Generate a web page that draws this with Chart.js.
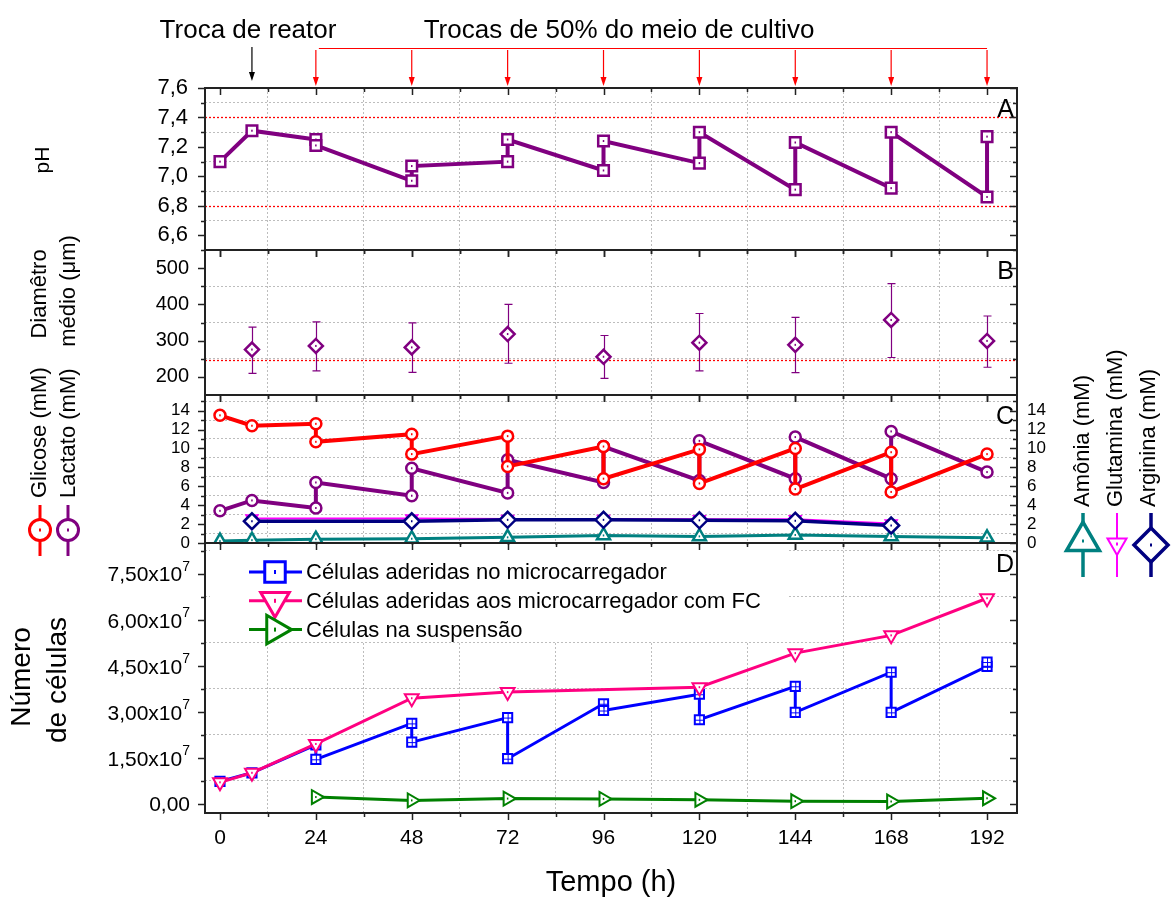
<!DOCTYPE html>
<html>
<head>
<meta charset="utf-8">
<script src="https://cdn.jsdelivr.net/npm/chart.js@4.4.0/dist/chart.umd.min.js"></script>
<style>
  html, body { margin: 0; padding: 0; background: #fff; }
  #wrap { position: relative; width: 1171px; height: 897px; }
  #wrap canvas { position: absolute; left: 0; top: 0; }
</style>
</head>
<body>
<div id="wrap">
  <canvas id="cA" width="1171" height="897"></canvas>
  <canvas id="cB" width="1171" height="897"></canvas>
  <canvas id="cC" width="1171" height="897"></canvas>
  <canvas id="cD" width="1171" height="897"></canvas>
</div>
<script>
// ─────────────────────────────────────────
//  Data
// ─────────────────────────────────────────

// ── Time axis ──────────────────────────────
const timeTicks     = [0, 24, 48, 72, 96, 120, 144, 168, 192];
const timeGrid      = [12, 36, 60, 84, 108, 132, 156, 180];
const reactorChange = [8];
const mediumChanges = [24, 48, 72, 96, 120, 144, 168, 192];

// ── A: pH ──────────────────────────────────
const phTicks  = [6.6, 6.8, 7.0, 7.2, 7.4, 7.6];
const phGrid   = [6.7, 6.9, 7.1, 7.3, 7.5];
const phLimits = [7.4, 6.8];
const phTime   = [0, 8, 24, 24, 48, 48, 72, 72, 96, 96, 120, 120, 144, 144, 168, 168, 192, 192];
const phValue  = [7.10, 7.31, 7.25, 7.21, 6.97, 7.07, 7.10, 7.25, 7.04, 7.24, 7.09, 7.30, 6.91, 7.23, 6.92, 7.30, 6.86, 7.27];

// ── B: mean diameter (µm) ─────────────────
const diamTicks = [200, 300, 400, 500];
const diamGrid  = [250, 350, 450, 550];
const diamLimit = [245];
const diamTime  = [8, 24, 48, 72, 96, 120, 144, 168, 192];
const diamMean  = [275, 285, 281, 318, 255, 294, 288, 357, 299];
const diamLow   = [209, 216, 212, 237, 195, 216, 211, 253, 226];
const diamHigh  = [337, 352, 349, 400, 314, 375, 364, 458, 368];

// ── C: metabolites (mM) ───────────────────
const concTicks = [0, 2, 4, 6, 8, 10, 12, 14];
const concGrid  = [1, 3, 5, 7, 9, 11, 13, 15];
const gluTime   = [0, 8, 24, 24, 48, 48, 72, 72, 96, 96, 120, 120, 144, 144, 168, 168, 192];
const gluValue  = [13.5, 12.4, 12.6, 10.7, 11.5, 9.4, 11.3, 8.1, 10.2, 6.8, 9.9, 6.3, 10.0, 5.7, 9.6, 5.4, 9.4];
const lacTime   = [0, 8, 24, 24, 48, 48, 72, 72, 96, 96, 120, 120, 144, 144, 168, 168, 192];
const lacValue  = [3.4, 4.5, 3.7, 6.4, 5.0, 7.9, 5.3, 8.8, 6.4, 10.2, 6.6, 10.8, 6.8, 11.2, 6.8, 11.8, 7.5];
const ammTime   = [0, 8, 24, 48, 72, 96, 120, 144, 168, 192];
const ammValue  = [0.2, 0.3, 0.4, 0.45, 0.6, 0.8, 0.7, 0.85, 0.7, 0.55];
const glnTime   = [8, 48, 72, 96, 120, 144, 168];
const glnValue  = [2.6, 2.6, 2.55, 2.55, 2.5, 2.5, 2.05];
const argTime   = [8, 48, 72, 96, 120, 144, 168];
const argValue  = [2.3, 2.3, 2.45, 2.45, 2.4, 2.35, 1.85];

// ── D: cell number ────────────────────────
const cellTicks  = [0, 1.5e7, 3.0e7, 4.5e7, 6.0e7, 7.5e7];
const cellGrid   = [0.75e7, 2.25e7, 3.75e7, 5.25e7, 6.75e7, 8.25e7];
const adhTime    = [0, 8, 24, 24, 48, 48, 72, 72, 96, 96, 120, 120, 144, 144, 168, 168, 192, 192];
const adhValue   = [0.73e7, 1.01e7, 1.92e7, 1.45e7, 2.62e7, 2.01e7, 2.81e7, 1.47e7, 3.26e7, 3.04e7, 3.57e7, 2.74e7, 3.83e7, 2.98e7, 4.29e7, 2.98e7, 4.48e7, 4.62e7];
const fcTime     = [0, 8, 24, 48, 72, 120, 144, 168, 192];
const fcValue    = [0.70e7, 1.01e7, 1.95e7, 3.44e7, 3.64e7, 3.80e7, 4.91e7, 5.49e7, 6.70e7];
const suspTime   = [24, 48, 72, 96, 120, 144, 168, 192];
const suspValue  = [0.22e7, 0.11e7, 0.17e7, 0.16e7, 0.13e7, 0.085e7, 0.075e7, 0.18e7];

// ─────────────────────────────────────────
//  Look
// ─────────────────────────────────────────
const FONT   = "'Liberation Sans', Arial, sans-serif";
const GRID   = '#bdbdbd';
const PURPLE = '#800080';
const RED    = '#ff0000';
const NAVY   = '#000080';
const MAGENTA= '#ff00ff';
const TEAL   = '#008080';
const BLUE   = '#0000ff';
const PINK   = '#ff0080';
const GREEN  = '#008000';

const PLOT_RIGHT_GAP = 154;   // 1171 - 1017
const AXIS_W = 205;

// ── Helpers ────────────────────────────────
const comma = (d) => (v) => v.toFixed(d).replace('.', ',');

function series(label, xs, ys, color, style, extra) {
  return Object.assign({
    label,
    data: xs.map((x, i) => ({ x, y: ys[i] })),
    borderColor: color,
    backgroundColor: '#fff',
    pointBorderColor: color,
    pointBackgroundColor: '#fff',
    pointStyle: style,
    pointRadius: 6,
    pointHoverRadius: 6,
    pointBorderWidth: 2.5,
    borderWidth: 3,
    tension: 0
  }, extra || {});
}

function xScale(showLabels) {
  return {
    type: 'linear',
    min: -3.75,
    max: 199.5,
    afterBuildTicks: (s) => {
      s.ticks = timeTicks.concat(timeGrid).sort((a, b) => a - b).map(v => ({ value: v }));
    },
    ticks: {
      display: showLabels,
      autoSkip: false,
      maxRotation: 0,
      padding: 13,
      color: '#000',
      font: { size: 21, family: FONT },
      callback: (v) => timeTicks.includes(v) ? String(v) : ''
    },
    grid: {
      drawTicks: false,
      lineWidth: 1,
      color: (c) => c.tick && timeGrid.includes(c.tick.value) ? GRID : 'rgba(0,0,0,0)'
    },
    border: { display: false, dash: [2, 2] },
    title: {
      display: showLabels,
      text: 'Tempo (h)',
      color: '#000',
      font: { size: 29, family: FONT, lineHeight: 1 },
      padding: { top: 0, bottom: 0 }
    },
    afterFit: (s) => { s.height = showLabels ? 84 : 0; }
  };
}

function yScale(min, max, major, minor, fmt, size, pad) {
  return {
    type: 'linear',
    position: 'left',
    min, max,
    afterBuildTicks: (s) => {
      s.ticks = major.concat(minor).filter(v => v >= min && v <= max)
        .sort((a, b) => a - b).map(v => ({ value: v }));
    },
    ticks: {
      display: fmt !== null,
      autoSkip: false,
      padding: pad,
      color: '#000',
      font: { size, family: FONT },
      callback: (v) => fmt && major.includes(v) ? fmt(v) : ''
    },
    grid: {
      drawTicks: false,
      lineWidth: 1,
      color: (c) => c.tick && minor.includes(c.tick.value) ? GRID : 'rgba(0,0,0,0)'
    },
    border: { display: false, dash: [2, 2] },
    afterFit: (s) => { s.width = AXIS_W; }
  };
}

function baseOptions(top, bottom, right, scales) {
  return {
    responsive: false,
    animation: false,
    devicePixelRatio: 1,
    layout: { padding: { top, bottom, left: 0, right } },
    plugins: {
      legend:  { display: false },
      tooltip: { enabled: false }
    },
    scales
  };
}

function vText(ctx, text, x, y, size, align) {
  ctx.save();
  ctx.translate(x, y);
  ctx.rotate(-Math.PI / 2);
  ctx.font = `${size}px ${FONT}`;
  ctx.fillStyle = '#000';
  ctx.textAlign = align || 'center';
  ctx.textBaseline = 'middle';
  ctx.fillText(text, 0, 0);
  ctx.restore();
}

function symbolKey(ctx, x, y0, y1, yc, k) {
  ctx.save();
  ctx.strokeStyle = k.color;
  ctx.lineWidth = k.width;
  ctx.beginPath();
  ctx.moveTo(x, y0);
  ctx.lineTo(x, y1);
  ctx.stroke();
  ctx.fillStyle = '#fff';
  Chart.helpers.drawPoint(ctx, {
    pointStyle: k.style, radius: k.radius, rotation: k.rotation || 0, borderWidth: k.width
  }, x, yc);
  ctx.fillStyle = k.color;
  ctx.fillRect(x - 1, yc - 1.5, 2, 3);
  ctx.restore();
}

function arrowDown(ctx, x, y0, y1, color) {
  ctx.strokeStyle = color;
  ctx.fillStyle = color;
  ctx.lineWidth = 1.2;
  ctx.beginPath();
  ctx.moveTo(x, y0);
  ctx.lineTo(x, y1 - 6);
  ctx.stroke();
  ctx.beginPath();
  ctx.moveTo(x - 3, y1 - 9);
  ctx.lineTo(x + 3, y1 - 9);
  ctx.lineTo(x, y1);
  ctx.closePath();
  ctx.fill();
}

// ─────────────────────────────────────────
//  Plugins
// ─────────────────────────────────────────

// frame + Origin-like tick marks
function framePlugin(yMajor) {
  return {
    id: 'frame',
    afterDraw(chart) {
      const { ctx, chartArea: a, scales } = chart;
      const xs = scales.x, ys = scales.y;
      ctx.save();
      ctx.strokeStyle = '#222';
      ctx.lineWidth = 1.5;
      ctx.beginPath();
      xs.ticks.forEach(t => {
        const px = Math.round(xs.getPixelForValue(t.value)) + 0.5;
        const len = timeTicks.includes(t.value) ? 7 : 4;
        ctx.moveTo(px, a.top);    ctx.lineTo(px, a.top + len);
        ctx.moveTo(px, a.bottom); ctx.lineTo(px, a.bottom + len);
      });
      ys.ticks.forEach(t => {
        const py = Math.round(ys.getPixelForValue(t.value)) + 0.5;
        const len = yMajor.includes(t.value) ? 7 : 4;
        ctx.moveTo(a.left, py);  ctx.lineTo(a.left - len, py);
        ctx.moveTo(a.right, py); ctx.lineTo(a.right - len, py);
      });
      ctx.stroke();
      ctx.lineWidth = 2;
      ctx.strokeRect(a.left, a.top, a.right - a.left, a.bottom - a.top);
      ctx.restore();
    }
  };
}

// small centre mark inside each marker (Origin style)
const centerMarks = {
  id: 'centerMarks',
  afterDatasetDraw(chart, args) {
    const ds = chart.data.datasets[args.index];
    if (ds.pointRadius === 0) return;
    const { ctx } = chart;
    ctx.save();
    ctx.fillStyle = ds.borderColor;
    ctx.strokeStyle = ds.borderColor;
    ctx.lineWidth = 1;
    args.meta.data.forEach(pt => {
      if (ds.centerMark === 'plus') {
        const s = ds.pointRadius * 0.7;
        ctx.beginPath();
        ctx.moveTo(pt.x - s, pt.y + 0.5); ctx.lineTo(pt.x + s, pt.y + 0.5);
        ctx.moveTo(pt.x + 0.5, pt.y - s); ctx.lineTo(pt.x + 0.5, pt.y + s);
        ctx.stroke();
      } else {
        ctx.fillRect(pt.x - 0.75, pt.y - 1, 1.5, 2);
      }
    });
    ctx.restore();
  }
};

// red dotted reference lines
function refLinesPlugin(values) {
  return {
    id: 'refLines',
    beforeDatasetsDraw(chart) {
      const { ctx, chartArea: a, scales: { y } } = chart;
      ctx.save();
      ctx.strokeStyle = RED;
      ctx.lineWidth = 1.3;
      ctx.setLineDash([2, 2]);
      values.forEach(v => {
        const py = Math.round(y.getPixelForValue(v)) + 0.5;
        ctx.beginPath();
        ctx.moveTo(a.left, py);
        ctx.lineTo(a.right, py);
        ctx.stroke();
      });
      ctx.restore();
    }
  };
}

// panel letter
function letterPlugin(letter) {
  return {
    id: 'letter',
    afterDraw(chart) {
      const { ctx, chartArea: a } = chart;
      ctx.save();
      ctx.font = `25px ${FONT}`;
      ctx.fillStyle = '#000';
      ctx.textAlign = 'right';
      ctx.textBaseline = 'alphabetic';
      ctx.fillText(letter, a.right - 3, a.top + 29);
      ctx.restore();
    }
  };
}

// annotations above panel A
const topNotes = {
  id: 'topNotes',
  afterDraw(chart) {
    const { ctx } = chart;
    const xs = chart.scales.x;
    ctx.save();
    ctx.font = `26px ${FONT}`;
    ctx.fillStyle = '#000';
    ctx.textAlign = 'center';
    ctx.textBaseline = 'alphabetic';
    ctx.fillText('Troca de reator', 248, 38);
    ctx.fillText('Trocas de 50% do meio de cultivo', 619, 38);

    reactorChange.forEach(t => arrowDown(ctx, xs.getPixelForValue(t), 47, 81, '#000'));

    const x0 = xs.getPixelForValue(mediumChanges[0]);
    const x1 = xs.getPixelForValue(mediumChanges[mediumChanges.length - 1]);
    ctx.strokeStyle = RED;
    ctx.lineWidth = 1.2;
    ctx.beginPath();
    ctx.moveTo(x0 + 3, 48.5);
    ctx.lineTo(x1, 48.5);
    ctx.stroke();
    mediumChanges.forEach(t => arrowDown(ctx, xs.getPixelForValue(t), 50, 86, RED));
    ctx.restore();
  }
};

// error bars on panel B
const errorBars = {
  id: 'errorBars',
  beforeDatasetsDraw(chart) {
    const { ctx, scales: { x, y } } = chart;
    ctx.save();
    ctx.strokeStyle = PURPLE;
    ctx.lineWidth = 1.2;
    diamTime.forEach((t, i) => {
      const px = Math.round(x.getPixelForValue(t)) + 0.5;
      const lo = y.getPixelForValue(diamLow[i]);
      const hi = y.getPixelForValue(diamHigh[i]);
      ctx.beginPath();
      ctx.moveTo(px, lo);     ctx.lineTo(px, hi);
      ctx.moveTo(px - 4, lo); ctx.lineTo(px + 4, lo);
      ctx.moveTo(px - 4, hi); ctx.lineTo(px + 4, hi);
      ctx.stroke();
    });
    ctx.restore();
  }
};

// left / right axis titles with symbol keys
const sideTitles = {
  id: 'sideTitles',
  afterDraw(chart) {
    const { ctx } = chart;
    vText(ctx, 'pH', 43, 160, 21);
    vText(ctx, 'Diamêtro', 40, 294, 22);
    vText(ctx, 'médio (μm)', 69, 291, 22);
    vText(ctx, 'Glicose (mM)', 40, 498, 22, 'left');
    vText(ctx, 'Lactato (mM)', 69, 498, 22, 'left');
    vText(ctx, 'Número', 22, 677, 28);
    vText(ctx, 'de células', 58, 680, 28);
    vText(ctx, 'Amônia (mM)', 1083, 507, 22, 'left');
    vText(ctx, 'Glutamina (mM)', 1116, 507, 22, 'left');
    vText(ctx, 'Arginina (mM)', 1149, 507, 22, 'left');

    symbolKey(ctx, 40, 505, 556, 530, { color: RED,    style: 'circle', radius: 10.5, width: 3 });
    symbolKey(ctx, 68, 505, 556, 530, { color: PURPLE, style: 'circle', radius: 10.5, width: 3 });
    symbolKey(ctx, 1083, 513, 577, 541, { color: TEAL,    style: 'triangle', radius: 19, width: 3.5 });
    symbolKey(ctx, 1117, 513, 577, 544, { color: MAGENTA, style: 'triangle', radius: 11, width: 2, rotation: 180 });
    symbolKey(ctx, 1151, 513, 577, 545, { color: NAVY,    style: 'rectRot',  radius: 17, width: 3.5 });
  }
};

// y labels of panel D with a real superscript exponent
const cellAxisLabels = {
  id: 'cellAxisLabels',
  afterDraw(chart) {
    const { ctx, scales: { y } } = chart;
    const right = 190;
    ctx.save();
    ctx.fillStyle = '#000';
    ctx.textAlign = 'right';
    cellTicks.forEach(v => {
      const py = y.getPixelForValue(v);
      if (v === 0) {
        ctx.font = `21px ${FONT}`;
        ctx.textBaseline = 'middle';
        ctx.fillText('0,00', right, py + 1);
        return;
      }
      ctx.font = `14px ${FONT}`;
      ctx.textBaseline = 'alphabetic';
      const expW = ctx.measureText('7').width;
      ctx.fillText('7', right, py - 3);
      ctx.font = `21px ${FONT}`;
      ctx.textBaseline = 'middle';
      ctx.fillText((v / 1e7).toFixed(2).replace('.', ',') + 'x10', right - expW, py + 2);
    });
    ctx.restore();
  }
};

// legend inside panel D
const cellLegend = {
  id: 'cellLegend',
  beforeDatasetsDraw(chart) {
    const { ctx } = chart;
    ctx.save();
    ctx.fillStyle = '#fff';
    ctx.fillRect(210, 545, 579, 96);
    ctx.restore();
  },
  afterDraw(chart) {
    const { ctx } = chart;
    ctx.save();
    ctx.font = `22px ${FONT}`;
    ctx.textAlign = 'left';
    ctx.textBaseline = 'middle';
    chart.data.datasets.forEach((ds, row) => {
      const y = 572 + row * 28.8;
      ctx.strokeStyle = ds.borderColor;
      ctx.lineWidth = ds.borderWidth;
      ctx.beginPath();
      ctx.moveTo(249, y);
      ctx.lineTo(302, y);
      ctx.stroke();
      ctx.fillStyle = '#fff';
      ctx.lineWidth = 3;
      Chart.helpers.drawPoint(ctx, {
        pointStyle: ds.pointStyle, radius: ds.legendRadius,
        rotation: ds.pointRotation || 0, borderWidth: 3
      }, 275, y);
      ctx.fillStyle = ds.borderColor;
      ctx.fillRect(274, y - 2, 2, 4);
      ctx.fillStyle = '#000';
      ctx.fillText(ds.label, 306, y + 1);
    });
    ctx.restore();
  }
};

// ─────────────────────────────────────────
//  Panel A – pH
// ─────────────────────────────────────────
new Chart(document.getElementById('cA'), {
  type: 'line',
  data: {
    datasets: [
      series('pH', phTime, phValue, PURPLE, 'rect', { pointRadius: 7.5, borderWidth: 4 })
    ]
  },
  options: baseOptions(88, 897 - 250, PLOT_RIGHT_GAP, {
    x: xScale(false),
    y: yScale(6.5, 7.6, phTicks, phGrid, comma(1), 22, 17)
  }),
  plugins: [refLinesPlugin(phLimits), framePlugin(phTicks), centerMarks, letterPlugin('A'), topNotes]
});

// ─────────────────────────────────────────
//  Panel B – mean diameter
// ─────────────────────────────────────────
new Chart(document.getElementById('cB'), {
  type: 'line',
  data: {
    datasets: [
      series('Diâmetro médio', diamTime, diamMean, PURPLE, 'rectRot', {
        showLine: false, pointRadius: 7, pointBorderWidth: 2.5
      })
    ]
  },
  options: baseOptions(250, 897 - 395, PLOT_RIGHT_GAP, {
    x: xScale(false),
    y: yScale(149, 551, diamTicks, diamGrid, (v) => String(v), 20, 16)
  }),
  plugins: [refLinesPlugin(diamLimit), errorBars, framePlugin(diamTicks), centerMarks, letterPlugin('B')]
});

// ─────────────────────────────────────────
//  Panel C – metabolites
// ─────────────────────────────────────────
const concRight = {
  type: 'linear',
  position: 'right',
  min: 0,
  max: 15.65,
  afterBuildTicks: (s) => { s.ticks = concTicks.map(v => ({ value: v })); },
  ticks: {
    autoSkip: false,
    padding: 10,
    color: '#000',
    font: { size: 17, family: FONT },
    callback: (v) => String(v)
  },
  grid: { display: false, drawTicks: false },
  border: { display: false },
  afterFit: (s) => { s.width = PLOT_RIGHT_GAP; }
};

new Chart(document.getElementById('cC'), {
  type: 'line',
  data: {
    datasets: [
      series('Arginina',  argTime, argValue, NAVY,    'rectRot',  { pointRadius: 8, borderWidth: 3.5, yAxisID: 'y2' }),
      series('Glutamina', glnTime, glnValue, MAGENTA, 'triangle', { pointRadius: 6, borderWidth: 2, pointRotation: 180, yAxisID: 'y2' }),
      series('Glicose',   gluTime, gluValue, RED,     'circle',   { pointRadius: 5.5, borderWidth: 4 }),
      series('Lactato',   lacTime, lacValue, PURPLE,  'circle',   { pointRadius: 5.5, borderWidth: 4 }),
      series('Amônia',    ammTime, ammValue, TEAL,    'triangle', { pointRadius: 7.5, borderWidth: 3, yAxisID: 'y2' })
    ]
  },
  options: baseOptions(395, 897 - 543, 0, {
    x: xScale(false),
    y: yScale(0, 15.65, concTicks, concGrid, (v) => String(v), 17, 15),
    y2: concRight
  }),
  plugins: [framePlugin(concTicks), centerMarks, letterPlugin('C'), sideTitles]
});

// ─────────────────────────────────────────
//  Panel D – cell number
// ─────────────────────────────────────────
new Chart(document.getElementById('cD'), {
  type: 'line',
  data: {
    datasets: [
      series('Células aderidas no microcarregador', adhTime, adhValue, BLUE, 'rect', {
        pointRadius: 6.5, pointBorderWidth: 2, borderWidth: 3, order: 1,
        centerMark: 'plus', legendRadius: 14.5
      }),
      series('Células aderidas aos microcarregador com FC', fcTime, fcValue, PINK, 'triangle', {
        pointRadius: 8, pointBorderWidth: 2, borderWidth: 3, pointRotation: 180, order: 0,
        legendRadius: 16.5
      }),
      series('Células na suspensão', suspTime, suspValue, GREEN, 'triangle', {
        pointRadius: 8, pointBorderWidth: 2, borderWidth: 3, pointRotation: 90, order: 2,
        legendRadius: 16.5
      })
    ]
  },
  options: baseOptions(543, 0, PLOT_RIGHT_GAP, {
    x: xScale(true),
    y: yScale(-0.3e7, 8.5e7, cellTicks, cellGrid, null, 21, 14)
  }),
  plugins: [cellLegend, framePlugin(cellTicks), centerMarks, letterPlugin('D'), cellAxisLabels]
});
</script>
</body>
</html>
